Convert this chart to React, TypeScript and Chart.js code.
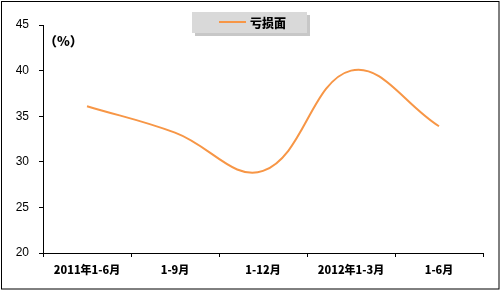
import React, { useEffect, useRef } from "react";
import { Chart, registerables } from "chart.js";

Chart.register(...registerables);

const categories = ["2011年1-6月", "1-9月", "1-12月", "2012年1-3月", "1-6月"];
const lossRatio = [36.1, 33.2, 29.0, 40.0, 33.9];
const seriesName = "亏损面";
const unitLabel = "（%）";
const yMin = 20;
const yMax = 45;
const yStep = 5;

const LINE_COLOR = "#F79646";

const decorPlugin = {
  id: "decor",
  afterDraw(chart: any) {
    const ctx = chart.ctx;
    ctx.save();
    // outer frame
    ctx.strokeStyle = "#000";
    ctx.lineWidth = 1;
    ctx.strokeRect(1.5, 1.5, 497.5, 287.5);
    // unit label
    ctx.fillStyle = "#000";
    ctx.font = "900 13px 'Noto Sans CJK SC', sans-serif";
    ctx.textBaseline = "middle";
    ctx.textAlign = "left";
    ctx.fillText(unitLabel, 44, 41);
    // legend box with shadow
    const bx = 192, by = 12, bw = 115, bh = 21;
    ctx.fillStyle = "rgba(0,0,0,0.22)";
    ctx.fillRect(bx + 3, by + 3, bw, bh);
    ctx.fillStyle = "#d9d9d9";
    ctx.fillRect(bx, by, bw, bh);
    ctx.strokeStyle = LINE_COLOR;
    ctx.lineWidth = 2;
    ctx.beginPath();
    ctx.moveTo(219, 22);
    ctx.lineTo(246, 22);
    ctx.stroke();
    ctx.fillStyle = "#000";
    ctx.font = "900 12px 'Noto Sans CJK SC', sans-serif";
    ctx.fillText(seriesName, 250, 23);
    ctx.restore();
  },
};

export default function App() {
  const ref = useRef<HTMLCanvasElement>(null);
  useEffect(() => {
    document.body.style.margin = "0";
    const chart = new Chart(ref.current!, {
      type: "line",
      data: {
        labels: categories,
        datasets: [
          {
            label: seriesName,
            data: lossRatio,
            borderColor: LINE_COLOR,
            backgroundColor: LINE_COLOR,
            borderWidth: 2,
            pointRadius: 0,
            tension: 0.4,
            fill: false,
          },
        ],
      },
      options: {
        animation: false,
        responsive: false,
        layout: { padding: { left: 0, right: 18, top: 25, bottom: 0 } },
        plugins: { legend: { display: false }, tooltip: { enabled: false } },
        scales: {
          x: {
            offset: true,
            grid: { display: true, drawOnChartArea: false, drawTicks: true, tickLength: 4, color: "#000", offset: true },
            border: { display: true, color: "#000", width: 1 },
            ticks: {
              color: "#000",
              padding: 6,
              maxRotation: 0,
              autoSkip: false,
              font: { family: "'Noto Sans CJK SC', sans-serif", size: 11, weight: "900" },
            },
            afterFit: (s: any) => { s.height = 38; },
          },
          y: {
            min: yMin,
            max: yMax,
            grid: { display: true, drawOnChartArea: false, drawTicks: true, tickLength: 4, color: "#000" },
            border: { display: true, color: "#000", width: 1 },
            ticks: {
              stepSize: yStep,
              color: "#000",
              padding: 10,
              font: { family: "'Liberation Sans', Arial, sans-serif", size: 12 },
            },
            afterFit: (s: any) => { s.width = 43; },
          },
        },
      },
      plugins: [decorPlugin],
    });
    return () => chart.destroy();
  }, []);
  return <canvas ref={ref} width={501} height={291} style={{ display: "block" }} />;
}
